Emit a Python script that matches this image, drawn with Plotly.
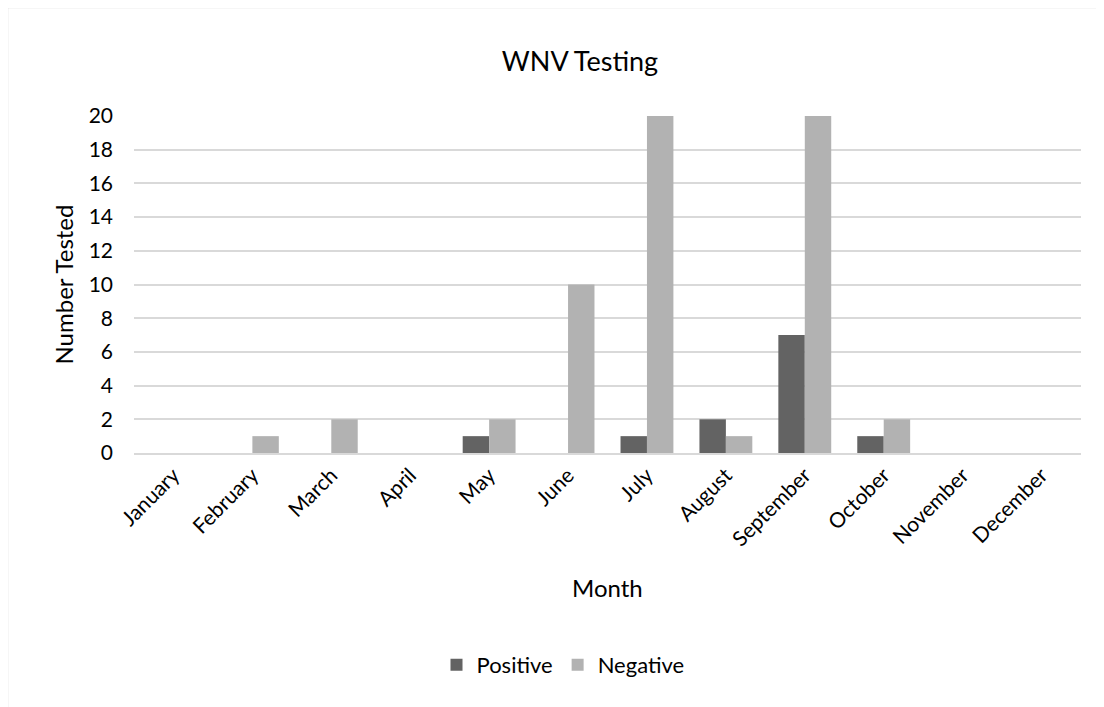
import plotly.graph_objects as go

months = ["January", "February", "March", "April", "May", "June", "July",
          "August", "September", "October", "November", "December"]
positive = [0, 0, 0, 0, 1, 0, 1, 2, 7, 1, 0, 0]
negative = [0, 1, 2, 0, 2, 10, 20, 1, 20, 2, 0, 0]
y_ticks = [0, 2, 4, 6, 8, 10, 12, 14, 16, 18, 20]

FONT = "Lato, Carlito, Calibri, sans-serif"

fig = go.Figure()
fig.add_bar(x=months, y=positive, name="Positive", marker_color="#636363",
            marker_line_width=0)
fig.add_bar(x=months, y=negative, name="Negative", marker_color="#b2b2b2",
            marker_line_width=0)

OFF = 8  # page body margin offset
W, H = 1104 - OFF, 707 - OFF
# reference pixel geometry of plot area
PL, PR, PT, PB = 134, 1081, 116, 453
L, T = PL - OFF, PT - OFF
R = W - (PR - OFF)
B = H - (PB - OFF)
pw, ph = PR - PL, PB - PT

def px2paper_x(px):
    return (px - PL) / pw

def py2paper_y(py):
    return (PB - py) / ph

fig.update_layout(
    width=W, height=H,
    margin=dict(l=L, r=R, t=T, b=B),
    paper_bgcolor="white", plot_bgcolor="white",
    barmode="group", bargap=0.33, bargroupgap=0,
    font=dict(family=FONT, size=21, color="#000000"),
    title=dict(text="WNV Testing", x=(580 - OFF) / W, xanchor="center",
               y=1 - (62 - OFF) / H, yanchor="middle", xref="container", yref="container",
               font=dict(size=27, family=FONT, color="#000000")),
    showlegend=True,
    legend=dict(orientation="h", x=px2paper_x(563), xanchor="center",
                y=py2paper_y(665), yanchor="middle",
                font=dict(size=22, family=FONT), traceorder="normal"),
    xaxis=dict(type="category", tickangle=-45, showgrid=False,
               showline=True, linecolor="#d9d9d9", linewidth=1.5,
               ticks="", tickfont=dict(size=21)),
    yaxis=dict(range=[0, 20], tickvals=y_ticks, showgrid=True,
               gridcolor="#d9d9d9", gridwidth=1.5, zeroline=False,
               showline=False, ticks="", tickfont=dict(size=21),
               ticklabelstandoff=20),
    annotations=[
        dict(text="Number Tested", xref="paper", yref="paper",
             x=px2paper_x(63), y=0.5, textangle=-90, showarrow=False,
             xanchor="center", yanchor="middle", font=dict(size=24, family=FONT)),
        dict(text="Month", xref="paper", yref="paper",
             x=px2paper_x(607), y=py2paper_y(587), showarrow=False,
             xanchor="center", yanchor="middle", font=dict(size=24, family=FONT)),
    ],
    shapes=[
        dict(type="rect", xref="paper", yref="paper",
             x0=px2paper_x(7.5), x1=px2paper_x(1200),
             y0=py2paper_y(760), y1=py2paper_y(7.5),
             line=dict(color="#d9d9d9", width=1.5), fillcolor="rgba(0,0,0,0)",
             layer="below"),
    ],
)

fig.write_html("out.html")
